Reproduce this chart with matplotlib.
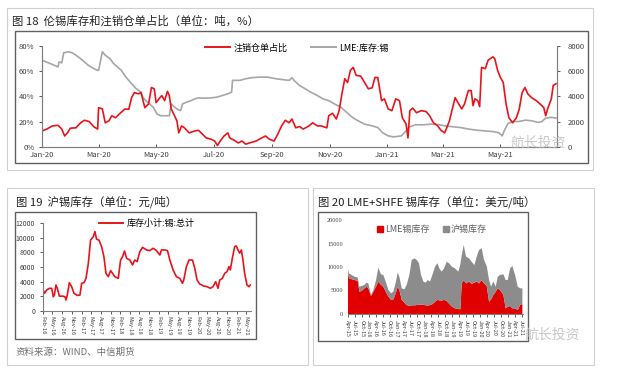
import numpy as np
import pandas as pd
import matplotlib
matplotlib.use('Agg')
import matplotlib.pyplot as plt
import matplotlib.dates as mdates
from matplotlib.patches import Rectangle, Patch
from matplotlib.lines import Line2D

plt.rcParams['font.family'] = ['Noto Sans CJK SC', 'DejaVu Sans']
plt.rcParams['axes.unicode_minus'] = False

W, H = 618, 373

# ---- 图18: days since 2020-01-01
cancel_days = [0, 5, 11, 17, 21, 24, 27, 30, 36, 41, 45, 50, 55, 59, 60, 64, 67, 71, 74, 78,
               82, 88, 92, 95, 98, 102, 105, 109, 113, 116, 119, 121, 124, 127, 130, 133, 135, 137, 139, 143,
               145, 148, 151, 156, 162, 166, 170, 174, 179, 183, 186, 189, 193, 197, 199, 204, 208, 212, 216, 220,
               227, 233, 237, 241, 246, 250, 254, 258, 262, 265, 269, 273, 277, 283, 287, 292, 296, 302, 304, 308,
               312, 315, 318, 321, 324, 327, 330, 333, 338, 342, 346, 350, 353, 356, 360, 363, 367, 371, 375, 379,
               382, 386, 388, 390, 393, 397, 402, 407, 411, 415, 419, 423, 427, 432, 435, 438, 441, 445, 448, 452,
               455, 457, 459, 462, 464, 466, 470, 473, 478, 480, 483, 486, 489, 492, 495, 499, 503, 506, 509, 512,
               515, 519, 524, 528, 532, 534, 536, 540, 542, 545]
cancel_pct = [12.5, 14, 16.5, 17, 14, 8.5, 11, 14.7, 15, 19, 21, 20, 15.8, 14, 31, 30, 19, 20.6, 24.6, 23,
              26, 30, 29.7, 39, 43, 42, 43, 31, 34, 47, 46, 35, 38, 40.6, 36.6, 44, 40.6, 30, 27, 20.6,
              11, 16.5, 15, 11, 12.5, 13, 10, 7, 6, 4.5, 1, 4.5, 8.5, 11, 7, 5, 3, 4.5, 2, 3,
              4.5, 7, 8.5, 6, 4.5, 10, 16.5, 21, 19, 22, 15, 16, 14, 16.5, 19, 16.5, 16.5, 15, 24.6, 26.5,
              22, 28.6, 42, 54, 51, 60.7, 63, 56.7, 56, 51, 46, 46.8, 55, 55, 36.6, 38, 30, 28.6, 38, 36.6,
              23, 18, 7, 28.6, 30.7, 27, 28.6, 28, 24.6, 19, 17, 13, 11, 20.6, 30, 39, 35, 30, 34, 44.6,
              44.6, 32.6, 38, 36.6, 31.8, 63, 62, 68.7, 71.4, 70, 60.7, 55, 51, 34, 23, 19, 23, 30, 43, 47,
              42, 39, 36.6, 34, 31, 24.6, 30, 38, 48.7, 50]
lme_days = [0, 7, 13, 17, 18, 21, 23, 28, 32, 36, 43, 49, 55, 59, 60, 64, 67, 72, 76, 80,
            84, 89, 95, 100, 105, 107, 110, 114, 118, 122, 126, 130, 135, 137, 139, 143, 147, 149, 153, 158,
            162, 166, 172, 179, 185, 191, 197, 201, 202, 210, 216, 222, 231, 239, 248, 256, 262, 265, 268, 273,
            279, 285, 292, 298, 304, 310, 317, 323, 329, 335, 342, 350, 356, 361, 367, 373, 381, 386, 390, 396,
            404, 413, 421, 427, 436, 444, 453, 461, 469, 478, 484, 488, 490, 494, 499, 505, 513, 519, 526, 530,
            534, 540, 545]
lme_stock = [6870, 6660, 6470, 6340, 6740, 6660, 7460, 7540, 7460, 7270, 6870, 6470, 6200, 6070, 6070, 7540, 7270, 7000, 6600, 6340,
             6070, 5530, 5000, 4600, 4330, 3930, 3660, 3400, 3130, 2590, 2460, 2460, 2460, 3400, 3260, 3000, 2860, 3400, 3530, 3660,
             3800, 3880, 3850, 3880, 3930, 4060, 4200, 4330, 5270, 5270, 5400, 5480, 5530, 5530, 5400, 5320, 5270, 5480, 5210, 4870,
             4600, 4330, 4060, 3800, 3660, 3400, 3130, 2730, 2330, 2060, 1790, 1660, 1520, 1120, 860, 780, 860, 1260, 1580, 1740,
             1740, 1790, 1740, 1660, 1580, 1520, 1390, 1310, 1260, 1200, 1120, 860, 1260, 1840, 2000, 2000, 2110, 2060, 1930, 2000,
             2270, 2330, 2270]

# ---- 图19: days since 2016-02-01
shfe_days = [0, 16, 38, 63, 85, 100, 110, 125, 138, 157, 188, 210, 219, 232, 251, 273, 295, 326, 351, 367,
             389, 408, 430, 451, 477, 492, 508, 530, 555, 577, 596, 618, 640, 658, 680, 712, 734, 752, 771, 790,
             821, 846, 868, 890, 915, 941, 978, 1009, 1041, 1072, 1104, 1119, 1151, 1176, 1198, 1229, 1260, 1292, 1317, 1329,
             1354, 1379, 1411, 1433, 1455, 1480, 1517, 1549, 1580, 1605, 1630, 1652, 1668, 1693, 1715, 1737, 1756, 1768, 1787, 1809,
             1825, 1840, 1856, 1872, 1887, 1903, 1925, 1944, 1956]
shfe_stock = [3070, 2380, 2840, 3070, 3070, 1920, 2150, 3530, 3070, 2000, 2000, 1920, 1470, 2150, 3850, 3300, 2380, 2100, 2150, 3760,
              3850, 4440, 6500, 9700, 10170, 10860, 9800, 9700, 8800, 7400, 5130, 4670, 5500, 5130, 4670, 4440, 6960, 7400, 8200, 7200,
              6960, 6280, 6960, 6730, 8100, 8700, 8340, 8250, 8570, 8250, 7650, 8340, 8340, 8250, 6960, 5590, 4670, 4440, 3760, 4200,
              6050, 6960, 6960, 5820, 4200, 3660, 3390, 3300, 3070, 3300, 3980, 3070, 4200, 4440, 5130, 5360, 6050, 5590, 7200, 8800,
              8900, 8340, 7900, 8340, 6960, 5130, 3530, 3300, 3530]

# ---- 图20: days since 2015-04-01
both_days = [0, 17, 52, 96, 131, 153, 184, 219, 249, 271, 306, 337, 372, 402, 437, 468, 499, 534, 569, 599,
             630, 656, 678, 709, 744, 774, 809, 840, 875, 905, 936, 962, 993, 1024, 1050, 1080, 1111, 1146, 1177, 1203,
             1233, 1264, 1299, 1330, 1365, 1408, 1452, 1478, 1496, 1522, 1553, 1592, 1627, 1662, 1693, 1723, 1758, 1789, 1824, 1855,
             1881, 1911, 1942, 1968, 1999, 2043, 2073, 2100, 2130, 2161, 2196, 2231, 2261, 2292]
lme_part = [9360, 7600, 7400, 7200, 7100, 4750, 4900, 5460, 5800, 5460, 3830, 4750, 5800, 6900, 6200, 5800, 4750, 3700, 3000, 3100,
            4400, 5800, 5100, 3000, 2400, 1900, 1700, 1850, 1850, 1900, 1950, 2000, 1950, 1850, 1800, 1900, 2100, 2600, 3000, 2900,
            2850, 3000, 2770, 2200, 1600, 1200, 1050, 1000, 6500, 7200, 6500, 6900, 6400, 6670, 6900, 6500, 7200, 6500, 5960, 2600,
            3100, 4040, 4750, 5460, 5100, 4040, 1200, 1560, 1700, 1200, 1200, 850, 1900, 2130]
total_stock = [9700, 8650, 8300, 7900, 7800, 5800, 5950, 6200, 6670, 6500, 4040, 5100, 7230, 9860, 8440, 8300, 6900, 5100, 4400, 4750,
               6670, 8800, 7900, 5460, 5250, 6200, 8300, 11500, 11840, 11500, 10800, 8300, 6900, 6670, 7230, 6900, 8300, 10070, 10800, 9700,
               9000, 9700, 11100, 10800, 10070, 9700, 9000, 10600, 12500, 14700, 12200, 11840, 11100, 10400, 12200, 13600, 14000, 11500, 10200, 7230,
               5800, 6900, 5800, 7900, 8300, 8440, 7230, 7230, 9700, 10200, 8300, 5800, 5460, 5460]
shfe_part = [t - l for t, l in zip(total_stock, lme_part)]


def box(x0, y0, x1, y1):
    return [x0 / W, 1 - y1 / H, (x1 - x0) / W, (y1 - y0) / H]


def frame(x0, y0, x1, y1, color, lw):
    fig.add_artist(Rectangle((x0 / W, 1 - y1 / H), (x1 - x0) / W, (y1 - y0) / H,
                             transform=fig.transFigure, fill=False, edgecolor=color, lw=lw))


def style(ax, size):
    for s in ax.spines.values():
        s.set_color('#808080')
        s.set_linewidth(0.8)
    ax.tick_params(labelsize=size, colors='#404040', length=2, width=0.6)


fig = plt.figure(figsize=(W / 100, H / 100), dpi=100)

# outer panels
frame(7, 8, 593, 170, '#d0d0d0', 0.8)
frame(15, 31, 588, 163, '#606060', 1.0)
frame(7, 188, 308, 365, '#d0d0d0', 0.8)
frame(15, 212, 256, 339, '#606060', 1.0)
frame(313, 188, 594, 365, '#d0d0d0', 0.8)
frame(318, 212, 528, 341, '#606060', 1.0)

fig.text(12 / W, 1 - 21 / H, '图 18  伦锡库存和注销仓单占比（单位：吨，%）', fontsize=8.2, va='center', color='#222222')
fig.text(16 / W, 1 - 202 / H, '图 19  沪锡库存（单位：元/吨）', fontsize=8.2, va='center', color='#222222')
fig.text(318 / W, 1 - 202 / H, '图 20 LME+SHFE 锡库存（单位：美元/吨）', fontsize=8.2, va='center', color='#222222')
fig.text(16 / W, 1 - 352 / H, '资料来源：WIND、中信期货', fontsize=6.8, va='center', color='#707070')

# ---- chart 18
base18 = pd.Timestamp('2020-01-01')
ax1 = fig.add_axes(box(42, 46, 557, 146.7))
ax2 = ax1.twinx()
ax2.plot(base18 + pd.to_timedelta(lme_days, 'D'), lme_stock, color='#a6a6a6', lw=1.2)
ax1.plot(base18 + pd.to_timedelta(cancel_days, 'D'), cancel_pct, color='#e8141c', lw=1.2)
ax1.set_zorder(ax2.get_zorder() + 1)
ax1.patch.set_visible(False)
ax1.set_ylim(0, 80)
ax2.set_ylim(0, 8000)
ax1.set_yticks([0, 20, 40, 60, 80])
ax1.set_yticklabels(['%d%%' % v for v in [0, 20, 40, 60, 80]])
ax2.set_yticks([0, 2000, 4000, 6000, 8000])
ax1.set_xlim(base18, base18 + pd.Timedelta(days=546))
ax1.xaxis.set_major_locator(mdates.MonthLocator(bymonth=(1, 3, 5, 7, 9, 11)))
ax1.xaxis.set_major_formatter(mdates.DateFormatter('%b-%y'))
for a in (ax1, ax2):
    style(a, 5.5)
    a.spines['top'].set_visible(False)
ax1.tick_params(axis='x', direction='in', pad=3)
ax2.tick_params(axis='y', pad=6)
fig.legend(handles=[Line2D([], [], color='#e8141c', lw=1.4, label='注销仓单占比'),
                    Line2D([], [], color='#a6a6a6', lw=1.4, label='LME:库存:锡')],
           loc='center', bbox_to_anchor=(297 / W, 1 - 48 / H), ncol=2, frameon=False,
           fontsize=6.5, handlelength=2.8, columnspacing=2.5, handletextpad=0.4)
fig.text(538 / W, 1 - 143 / H, '航长投资', fontsize=10, color='#bbbbbb', alpha=0.8, ha='center', va='center')

# ---- chart 19
base19 = pd.Timestamp('2016-02-01')
ax3 = fig.add_axes(box(42.7, 223.3, 250.7, 310.7))
ax3.plot(base19 + pd.to_timedelta(shfe_days, 'D'), shfe_stock, color='#e8141c', lw=1.2)
ax3.set_ylim(0, 12000)
ax3.set_yticks(range(0, 12001, 2000))
ax3.set_xlim(base19, base19 + pd.Timedelta(days=1960))
ax3.xaxis.set_major_locator(mdates.MonthLocator(bymonth=(2, 5, 8, 11)))
ax3.xaxis.set_major_formatter(mdates.DateFormatter('%b-%y'))
style(ax3, 5)
ax3.spines['top'].set_visible(False)
ax3.spines['right'].set_visible(False)
ax3.tick_params(axis='x', labelsize=4.2, rotation=-90, pad=2)
ax3.legend(handles=[Line2D([], [], color='#e8141c', lw=1.4, label='库存小计:锡:总计')],
           loc='center', bbox_to_anchor=(0.5, 1.0), frameon=False, fontsize=6.5,
           handlelength=2.6, handletextpad=0.4)

# ---- chart 20
base20 = pd.Timestamp('2015-04-01')
ax4 = fig.add_axes(box(347.7, 220, 523, 314))
d20 = base20 + pd.to_timedelta(both_days, 'D')
ax4.stackplot(d20, lme_part, shfe_part, colors=['#e00000', '#8c8c8c'], lw=0)
ax4.set_ylim(0, 20000)
ax4.set_yticks(range(0, 20001, 5000))
ax4.set_xlim(base20, base20 + pd.Timedelta(days=2300))
ax4.xaxis.set_major_locator(mdates.MonthLocator(bymonth=(1, 4, 7, 10)))
ax4.xaxis.set_major_formatter(mdates.DateFormatter('%b-%y'))
style(ax4, 4.5)
for s in ('top', 'right', 'left'):
    ax4.spines[s].set_visible(False)
ax4.tick_params(axis='y', length=0)
ax4.tick_params(axis='x', labelsize=4, rotation=-90, pad=2)
for lab in ax4.get_yticklabels():
    lab.set_family('Liberation Serif')
ax4.legend(handles=[Patch(color='#e00000', label='LME锡库存'), Patch(color='#8c8c8c', label='沪锡库存')],
           loc='center', bbox_to_anchor=(0.48, 0.9), ncol=2, frameon=False, fontsize=6.5,
           handlelength=0.7, handleheight=0.7, handletextpad=0.2, columnspacing=1.5,
           labelcolor='#606060')
fig.text(552 / W, 1 - 335 / H, '航长投资', fontsize=10, color='#bbbbbb', alpha=0.8, ha='center', va='center')

fig.savefig('out.png', dpi=100)
